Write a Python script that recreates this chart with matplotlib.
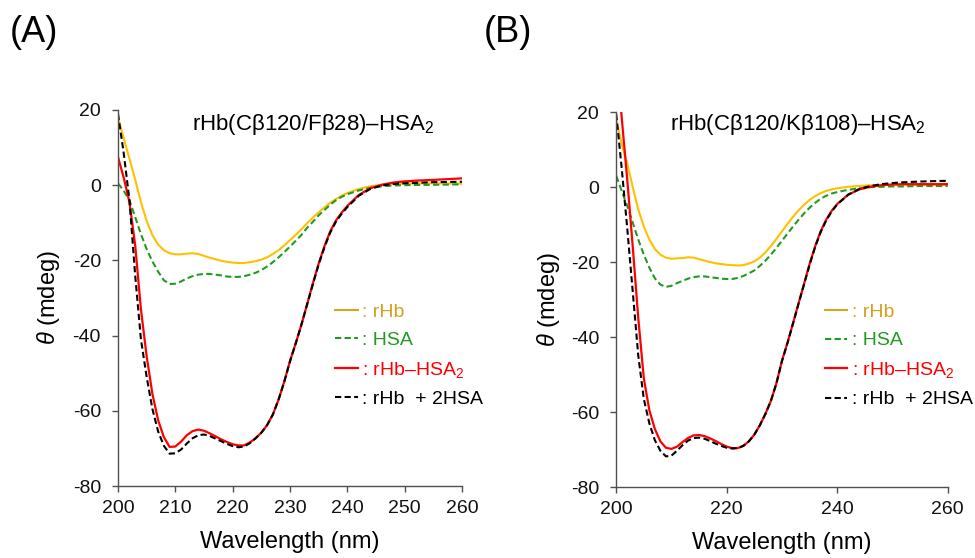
import matplotlib
matplotlib.use("Agg")
import matplotlib.pyplot as plt

plt.rcParams["font.family"] = ["Liberation Sans", "DejaVu Sans"]
plt.rcParams["mathtext.fontset"] = "custom"
plt.rcParams["mathtext.rm"] = "Liberation Sans"
plt.rcParams["mathtext.it"] = "Liberation Sans:italic"
plt.rcParams["mathtext.bf"] = "Liberation Sans:bold"
plt.rcParams["axes.unicode_minus"] = False

# wavelength grid (nm)
wavelength = list(range(200, 241)) + [242, 244, 246, 248, 250, 252, 255, 260]

# ---- panel A: rHb(Cβ120/Fβ28)–HSA2 ----
a_rhb = [18, 12.5, 7, 1.5, -4.5, -9.5, -13.3, -15.8, -17.3, -18.1,
         -18.4, -18.4, -18.2, -18.1, -18.3, -18.8, -19.3, -19.7, -20.1, -20.4,
         -20.6, -20.7, -20.7, -20.5, -20.2, -19.8, -19.2, -18.3, -17.3, -16.0,
         -14.6, -13.2, -11.7, -10.1, -8.6, -7.2, -5.9, -4.7, -3.7, -2.8,
         -2.1, -1.0, -0.3, 0.1, 0.3, 0.4, 0.45, 0.5, 0.4]
a_hsa = [0.5, -1.5, -4, -8.5, -13, -17, -20.3, -23, -25.3, -26.3,
         -26.2, -25.6, -24.8, -24.2, -23.8, -23.6, -23.6, -23.8, -24.0, -24.3,
         -24.4, -24.4, -24.2, -23.8, -23.3, -22.6, -21.6, -20.5, -19.2, -17.8,
         -16.3, -14.8, -13.2, -11.3, -9.7, -8.0, -6.6, -5.2, -4.0, -3.1,
         -2.4, -1.4, -0.7, -0.3, -0.1, 0.0, 0.05, 0.1, 0.2]
a_conj = [7.5, 2, -4.5, -16, -33, -45.5, -55.5, -62.5, -67, -69.6,
          -69.5, -68.2, -66.5, -65.4, -65.0, -65.3, -66.0, -66.8, -67.6, -68.3,
          -68.9, -69.2, -69.2, -68.4, -67.3, -65.8, -63.8, -61.0, -57.0, -52.2,
          -46.7, -42.0, -37.0, -31.5, -26.0, -20.8, -16.2, -12.3, -9.4, -7.3,
          -5.5, -2.6, -0.8, 0.1, 0.7, 1.0, 1.2, 1.4, 1.8]
a_mix = [19, 8.5, -4, -24, -41, -51, -59.5, -65.5, -69.3, -71.4,
         -71.3, -70.3, -68.7, -67.3, -66.5, -66.3, -66.7, -67.4, -68.1, -68.8,
         -69.4, -69.7, -69.5, -68.6, -67.3, -65.8, -63.8, -61.0, -57.0, -52.2,
         -46.8, -42.0, -37.0, -31.6, -26.2, -21.0, -16.5, -12.6, -9.7, -7.6,
         -5.8, -2.8, -1.0, -0.1, 0.3, 0.5, 0.6, 0.8, 0.9]

# ---- panel B: rHb(Cβ120/Kβ108)–HSA2 ----
b_rhb = [18, 11.5, 6.3, 0, -6, -10.5, -14, -16.5, -18, -18.8,
         -19.1, -19.0, -18.9, -18.7, -18.8, -19.2, -19.6, -20.0, -20.3, -20.5,
         -20.7, -20.8, -20.9, -20.8, -20.4, -19.8, -18.8, -17.4, -15.7, -13.8,
         -11.8, -9.8, -7.9, -6.2, -4.7, -3.4, -2.4, -1.6, -1.0, -0.6,
         -0.3, 0.1, 0.3, 0.5, 0.6, 0.6, 0.6, 0.6, 0.6]
b_hsa = [3, -1, -5, -9.5, -14, -18, -21.5, -24.3, -26, -26.6,
         -26.3, -25.6, -25.0, -24.4, -24.0, -23.8, -23.8, -24.0, -24.2, -24.4,
         -24.5, -24.5, -24.2, -23.7, -23.0, -22.2, -21.0, -19.6, -18.0, -16.2,
         -14.3, -12.4, -10.5, -8.7, -7.0, -5.5, -4.2, -3.1, -2.3, -1.7,
         -1.3, -0.7, -0.3, 0.0, 0.1, 0.2, 0.2, 0.3, 0.3]
b_conj = [36, 18.5, 2, -16, -35, -51, -59.5, -64.5, -67.8, -69.5,
          -69.8, -69.2, -68.0, -66.9, -66.2, -66.1, -66.4, -67.0, -67.7, -68.5,
          -69.2, -69.6, -69.6, -69.0, -67.8, -66.0, -63.5, -60.5, -57.0, -52.3,
          -46.3, -41.5, -36.3, -31.0, -25.8, -20.5, -15.8, -11.8, -8.7, -6.3,
          -4.5, -2.0, -0.6, 0.1, 0.5, 0.7, 0.8, 0.8, 0.8]
b_mix = [19.5, 5, -11, -28, -45, -56.5, -63, -67.5, -70.3, -71.8,
         -71.6, -70.3, -68.8, -67.6, -66.9, -66.8, -67.1, -67.7, -68.4, -69.0,
         -69.5, -69.7, -69.6, -69.0, -67.8, -66.0, -63.5, -60.5, -57.0, -52.3,
         -46.4, -41.6, -36.4, -31.1, -25.9, -20.7, -16.0, -12.0, -8.9, -6.5,
         -4.6, -2.0, -0.5, 0.3, 0.8, 1.1, 1.3, 1.5, 1.7]

titles = [r"rHb(Cβ120/Fβ28)–HSA$_2$", r"rHb(Cβ120/Kβ108)–HSA$_2$"]
panel_tags = ["(A)", "(B)"]
xtick_sets = [list(range(200, 261, 10)), list(range(200, 261, 20))]
yticks = list(range(-80, 21, 20))
legend_labels = [": rHb", ": HSA", r": rHb–HSA$_2$", ": rHb  + 2HSA"]

GOLD, GOLD_TXT = "#FFC000", "#D4A01E"
GREEN = "#229A22"
RED = "#FF0000"
BLACK = "#000000"
SPINE = "#505050"

fig = plt.figure(figsize=(9.75, 5.58), dpi=100)
axes_boxes = [[0.121, 0.129, 0.353, 0.674], [0.632, 0.127, 0.340, 0.672]]
title_pos = [(0.215, 0.947), (0.163, 0.952)]
legend_anchor = [(0.631, 0.486), (0.630, 0.490)]
tag_x = [10 / 975, 484 / 975]

panels = [(a_rhb, a_hsa, a_conj, a_mix), (b_rhb, b_hsa, b_conj, b_mix)]

for i, (rhb, hsa, conj, mix) in enumerate(panels):
    ax = fig.add_axes(axes_boxes[i])
    l1, = ax.plot(wavelength, rhb, color=GOLD, lw=1.5)
    l2, = ax.plot(wavelength, hsa, color=GREEN, lw=1.5, ls=(0, (3, 1.6)))
    l3, = ax.plot(wavelength, conj, color=RED, lw=1.6)
    l4, = ax.plot(wavelength, mix, color=BLACK, lw=1.5, ls=(0, (3, 1.6)))

    ax.set_xlim(200, 260)
    ax.set_ylim(-80, 20)
    ax.set_xticks(xtick_sets[i])
    ax.set_yticks(yticks)
    for side in ("top", "right"):
        ax.spines[side].set_visible(False)
    for side in ("left", "bottom"):
        ax.spines[side].set_color(SPINE)
        ax.spines[side].set_linewidth(1.0)
    ax.tick_params(axis="both", direction="out", length=4.3, width=1.0,
                   color=SPINE, labelsize=14, labelcolor="#111111")
    ax.tick_params(axis="x", pad=5.5)
    ax.tick_params(axis="y", pad=8)

    ax.set_xlabel("Wavelength (nm)", fontsize=17)
    ax.xaxis.set_label_coords(0.5, -0.12)
    ax.set_ylabel(r"$\theta$ (mdeg)", fontsize=17)
    ax.yaxis.set_label_coords(-0.163, 0.5)

    ax.text(title_pos[i][0], title_pos[i][1], titles[i], transform=ax.transAxes,
            fontsize=16, ha="left", va="baseline")

    leg = ax.legend([l1, l2, l3, l4], legend_labels, loc="upper left",
                    bbox_to_anchor=legend_anchor[i], frameon=False, fontsize=14,
                    handlelength=1.15, handletextpad=0.25, labelspacing=0.55,
                    borderpad=0, borderaxespad=0,
                    labelcolor=[GOLD_TXT, GREEN, RED, BLACK])
    leg.get_lines()[0].set_color("#D9A520")

    fig.text(tag_x[i], 1 - 42 / 558, panel_tags[i], fontsize=26,
             ha="left", va="baseline")

fig.savefig("out.png", dpi=100)
